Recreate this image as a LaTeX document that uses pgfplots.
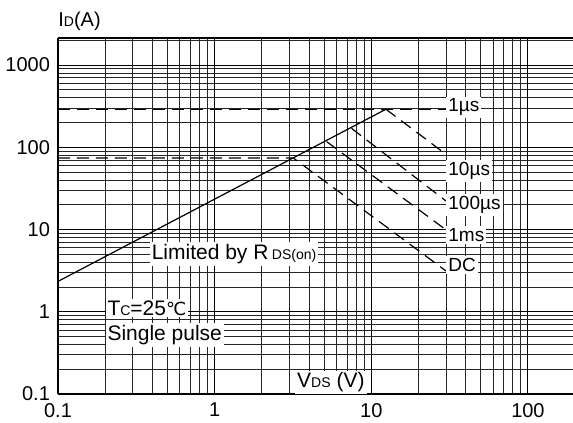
\documentclass[border=0pt]{standalone}
\usepackage{pgfplots}
\pgfplotsset{compat=1.18}
\usepackage{fontspec}
\setmainfont{Liberation Sans}
\newfontfamily\dejavu{DejaVu Sans}

\newcommand{\sub}[1]{{\fontsize{7}{8}\selectfont #1}}

\begin{document}
\begin{tikzpicture}
\begin{axis}[
    name=ax,
    xmode=log, ymode=log,
    scale only axis,
    width=257.5pt, height=178pt,
    xmin=0.1, xmax=194,
    ymin=0.1, ymax=2130,
    axis y line*=left,
    axis line style={line width=0.9pt},
    grid=both,
    major grid style={black, line width=0.5pt},
    minor grid style={black!85, line width=0.45pt},
    xtick={0.1,1,10,100},
    xticklabels={0.1,1,10,100},
    minor xtick={0.2,0.3,0.4,0.5,0.6,0.7,0.8,0.9,2,3,4,5,6,7,8,9,20,30,40,50,60,70,80,90},
    ytick={0.1,1,10,100,1000},
    yticklabels={0.1,1,10,100,1000},
    minor ytick={0.2,0.3,0.4,0.5,0.6,0.7,0.8,0.9,2,3,4,5,6,7,8,9,20,30,40,50,60,70,80,90,200,300,400,500,600,700,800,900,2000},
    major tick length=0pt, minor tick length=0pt,
    tick label style={font=\fontsize{10}{12}\selectfont},
    xticklabel style={yshift=-1pt},
    yticklabel style={xshift=-0.5pt},
    clip=false,
    dsh/.style={black, line width=0.6pt, dash pattern=on 6pt off 3.5pt},
]
% R_DS(on) limit
\addplot[black, line width=0.6pt] coordinates {(0.1,2.34) (12.4,290)};
% 1 us
\addplot[dsh] coordinates {(0.1,290) (30,290)};
% 10 us
\addplot[dsh] coordinates {(12.4,290) (30,82)};
% 100 us
\addplot[dsh] coordinates {(7.48,170) (30,22.2)};
% 1 ms
\addplot[dsh] coordinates {(5.19,117) (30,9.9)};
% DC
\addplot[dsh] coordinates {(0.1,74) (3.18,74) (30,3.13)};

\begin{scope}[every node/.style={fill=white, inner sep=1pt, anchor=west, font=\fontsize{9.5}{11}\selectfont}]
\node at (axis cs:30,308) {1µs};
\node at (axis cs:30,51.4) {10µs};
\node at (axis cs:30,19.9) {100µs};
\node at (axis cs:30,8.6) {1ms};
\node at (axis cs:30,3.7) {DC};
\end{scope}

\begin{scope}[every node/.style={fill=white, inner sep=1pt, font=\fontsize{10.5}{12}\selectfont}]
\node at (axis cs:1.33,5.0) {Limited by R\,\sub{DS(on)}};
\node[anchor=west] at (axis cs:0.2,1.11) {T\sub{C}=25{\dejavu\fontsize{9}{10}\selectfont ℃}};
\node[anchor=west] at (axis cs:0.2,0.52) {Single pulse};
\node[anchor=west] at (axis cs:3.25,0.138) {V\sub{DS} (V)};
\end{scope}

\node[anchor=base west, inner sep=0pt, font=\fontsize{10}{11}\selectfont]
    at ([yshift=5.5pt]rel axis cs:0,1) {I\sub{D}(A)};
\end{axis}
\pgfresetboundingbox
\path ([shift={(-29pt,-14.5pt)}]ax.south west) rectangle ([shift={(0pt,19pt)}]ax.north east);
\end{tikzpicture}
\end{document}
